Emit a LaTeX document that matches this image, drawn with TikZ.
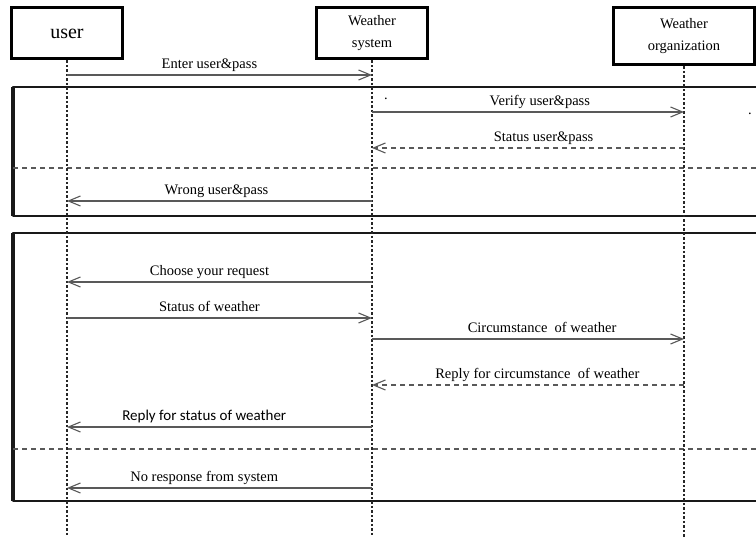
\documentclass[tikz,border=0pt]{standalone}
\usepackage{fontspec}
\setmainfont{Liberation Serif}
\newfontfamily\calib{Carlito}
\usetikzlibrary{arrows.meta}
\begin{document}
\begin{tikzpicture}[x=1pt,y=-1pt,
  actor/.style={draw=black, line width=3pt, fill=white, inner sep=0pt, align=center,
    font=\fontsize{14.5}{22}\selectfont},
  life/.style={draw=black!85, line width=1.3pt, dash pattern=on 2.5pt off 2pt},
  msg/.style={draw=black!65, line width=1.1pt, -{Straight Barb[length=12pt,width=10pt,line width=1.1pt]}},
  rmsg/.style={msg, dash pattern=on 5pt off 4pt},
  lbl/.style={anchor=base, yshift=6pt, inner sep=0pt, font=\fontsize{14.5}{16}\selectfont, text=black},
  slbl/.style={lbl, font=\calib\fontsize{15}{17}\selectfont},
  frame/.style={draw=black!90, line width=2.8pt, line join=round},
  fside/.style={draw=black!90, line width=3.6pt},
  sep/.style={draw=black!65, line width=1.1pt, dash pattern=on 5pt off 4pt}
]
\useasboundingbox (0,0) rectangle (756,537);
\clip (0,0) rectangle (756,537);
% frames
\draw[frame] (765,87) -- (13,87) -- (13,216) -- (765,216);
\draw[fside] (13,87) -- (13,216);
\draw[sep] (13,168) -- (765,168);
\draw[frame] (765,233) -- (13,233) -- (13,501) -- (765,501);
\draw[fside] (13,233) -- (13,501);
\draw[sep] (13,449) -- (765,449);
% participants
\node[actor, minimum width=111pt, minimum height=51pt, font=\fontsize{20}{22}\selectfont] (user) at (67,33.5) {user};
\node[actor, minimum width=111pt, minimum height=51pt] (sys) at (372,33.5) {Weather\\system};
\node[actor, minimum width=141pt, minimum height=57pt] (org) at (684,36.5) {Weather\\organization};
% lifelines
\coordinate (bot) at (0,540);
\draw[life] (user.south) -- (user.south |- bot);
\draw[life] (sys.south) -- (sys.south |- bot);
\draw[life] (org.south) -- (org.south |- bot);
% message levels
\coordinate (m1) at (0,75);
\coordinate (m2) at (0,112);
\coordinate (m3) at (0,148);
\coordinate (m4) at (0,201);
\coordinate (m5) at (0,282);
\coordinate (m6) at (0,318);
\coordinate (m7) at (0,339);
\coordinate (m8) at (0,385);
\coordinate (m9) at (0,427);
\coordinate (m10) at (0,488);
% messages
\draw[msg] (user |- m1) -- node[lbl,pos=.467]{Enter user\&pass} (sys |- m1);
\draw[msg] (sys |- m2) -- node[lbl,pos=.538]{Verify user\&pass} (org |- m2);
\draw[rmsg] (org |- m3) -- node[lbl,pos=.45]{Status user\&pass} (sys |- m3);
\draw[msg] (sys |- m4) -- node[lbl,pos=.51]{Wrong user\&pass} (user |- m4);
\draw[msg] (sys |- m5) -- node[lbl,pos=.533]{Choose your request} (user |- m5);
\draw[msg] (user |- m6) -- node[lbl,pos=.467]{Status of weather} (sys |- m6);
\draw[msg] (sys |- m7) -- node[lbl,pos=.545]{Circumstance \ of weather} (org |- m7);
\draw[rmsg] (org |- m8) -- node[lbl,pos=.47]{Reply for circumstance \ of weather} (sys |- m8);
\draw[msg] (sys |- m9) -- node[slbl,pos=.55]{Reply for status of weather} (user |- m9);
\draw[msg] (sys |- m10) -- node[lbl,pos=.55]{No response from system} (user |- m10);
% stray dots
\node[lbl, yshift=0pt] (dot1) at (386,106) {.};
\node[lbl, yshift=0pt] (dot2) at (750,121) {.};
\end{tikzpicture}
\end{document}
